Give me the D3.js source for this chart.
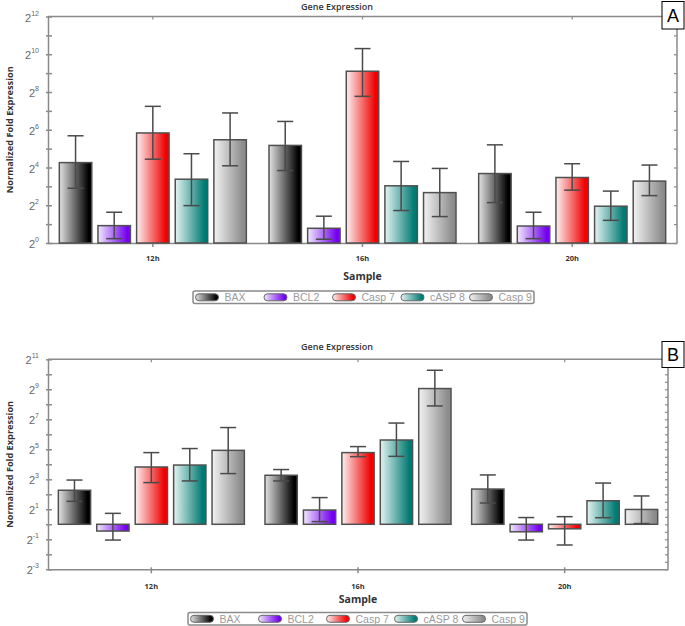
<!DOCTYPE html>
<html><head><meta charset="utf-8">
<script src="https://cdn.jsdelivr.net/npm/d3@7"></script>
<style>body{margin:0;background:#fff} svg{display:block}</style>
</head><body><svg id="c" width="685" height="626"></svg>
<script>
// ---------- data (log2 of normalized fold expression) ----------
const samples = ["12h", "16h", "20h"];
const genes = ["BAX", "BCL2", "Casp 7", "cASP 8", "Casp 9"];
// rows: samples, cols: genes
const valuesA  = [[4.26, 0.92, 5.83, 3.38, 5.47], [5.17, 0.78, 9.10, 3.03, 2.67], [3.68, 0.90, 3.47, 1.95, 3.28]];
const errHighA = [[5.68, 1.63, 7.24, 4.73, 6.89], [6.44, 1.42, 10.30, 4.32, 3.95], [5.20, 1.63, 4.20, 2.75, 4.13]];
const errLowA  = [[2.90, 0.23, 4.44, 1.98, 4.09], [3.84, 0.20, 7.77, 1.72, 1.40], [2.14, 0.23, 2.80, 1.20, 2.51]];
const valuesB  = [[2.27, -0.45, 3.82, 3.95, 4.93], [3.27, 0.95, 4.78, 5.62, 9.05], [2.35, -0.50, -0.30, 1.57, 0.99]];
const errHighB = [[2.95, 0.73, 4.78, 5.05, 6.45], [3.65, 1.78, 5.18, 6.75, 10.27], [3.29, 0.45, 0.51, 2.75, 1.89]];
const errLowB  = [[1.53, -1.05, 2.78, 2.89, 3.38], [2.89, 0.18, 4.51, 4.53, 7.89], [1.42, -1.05, -1.38, 0.44, 0.05]];
const tickLabelsA = [0, 2, 4, 6, 8, 10, 12];
const tickLabelsB = [-3, -1, 1, 3, 5, 7, 9, 11];
const geneLight = ["#e2e2e2", "#f1e8ff", "#fff0f0", "#e4f4f2", "#f2f2f2"];
const geneDark  = ["#000000", "#7400ee", "#f00000", "#007a72", "#8c8c8c"];

const svg = d3.select("#c");
const defs = svg.append("defs");
genes.forEach((g, i) => {
  const lg = defs.append("linearGradient").attr("id", "g" + i)
    .attr("x1", 0).attr("x2", 1).attr("y1", 0).attr("y2", 0);
  lg.append("stop").attr("offset", "0%").attr("stop-color", geneLight[i]);
  lg.append("stop").attr("offset", "90%").attr("stop-color", geneDark[i]);
  lg.append("stop").attr("offset", "100%").attr("stop-color", geneDark[i]);
});

const AX = "#8a8a8a";
const FONT = "'Open Sans', 'DejaVu Sans', sans-serif";

function panel(cfg) {
  const g = svg.append("g");
  const x = d3.scaleBand().domain(samples).range([cfg.left, cfg.right]);
  const y = d3.scaleLinear().domain(cfg.domain).range([cfg.bottom, cfg.top]);
  const inner = d3.scaleBand().domain(genes).range([-cfg.groupW / 2, cfg.groupW / 2]).paddingInner(0.16);
  const cx = s => x(s) + x.bandwidth() / 2;

  // title
  g.append("text").attr("x", 337).attr("y", cfg.titleY).attr("text-anchor", "middle")
    .attr("font-family", FONT).attr("font-size", 9).attr("font-weight", 600).attr("fill", "#333")
    .text("Gene Expression");

  // frame lines
  g.append("line").attr("x1", cfg.left).attr("x2", 662).attr("y1", cfg.top).attr("y2", cfg.top)
    .attr("stroke", AX).attr("stroke-width", 1.5);
  g.append("line").attr("x1", cfg.right).attr("x2", cfg.right).attr("y1", cfg.boxBottom).attr("y2", cfg.bottom)
    .attr("stroke", AX).attr("stroke-width", 1.5);

  // left axis
  const intTicks = d3.range(cfg.domain[0], cfg.domain[1] + 0.001, 1);
  const la = g.append("g").attr("transform", `translate(${cfg.left},0)`)
    .call(d3.axisLeft(y).tickValues(intTicks).tickSize(-4).tickSizeOuter(0).tickFormat(""));
  la.select(".domain").attr("stroke", AX).attr("stroke-width", 1.5);
  la.selectAll(".tick line").attr("stroke", AX).attr("stroke-width", 1.5).attr("x1", -2);
  cfg.labels.forEach(v => {
    const t = g.append("text").attr("x", 39).attr("y", y(v) + 5).attr("text-anchor", "end")
      .attr("font-family", "'Liberation Sans', Arial, sans-serif").attr("fill", "#666");
    t.append("tspan").attr("font-size", 11).text("2");
    t.append("tspan").attr("font-size", 7).attr("dy", -6).text(String(v));
  });

  // right axis (inward ticks)
  const ra = g.append("g").attr("transform", `translate(${cfg.right},0)`)
    .call(d3.axisRight(y).tickValues(d3.range(cfg.domain[0], cfg.domain[1] + 0.001, cfg.rightStep))
      .tickSize(-3).tickSizeOuter(0).tickFormat(""));
  ra.select(".domain").remove();
  ra.selectAll(".tick line").attr("stroke", AX).attr("stroke-width", 1.2);

  // bottom axis
  const ba = g.append("g").attr("transform", `translate(0,${cfg.bottom})`)
    .call(d3.axisBottom(x).tickSize(4).tickSizeOuter(0).tickFormat(""));
  ba.select(".domain").attr("stroke", AX).attr("stroke-width", 1.5);
  ba.selectAll(".tick line").attr("stroke", AX).attr("stroke-width", 1.5).attr("y1", -2);
  // top axis ticks
  const ta = g.append("g").attr("transform", `translate(0,${cfg.top})`)
    .call(d3.axisTop(x).tickSize(-3).tickSizeOuter(0).tickFormat(""));
  ta.select(".domain").remove();
  ta.selectAll(".tick line").attr("stroke", AX).attr("stroke-width", 1.2);

  // category labels
  samples.forEach(s => {
    g.append("text").attr("x", cx(s)).attr("y", cfg.catY).attr("text-anchor", "middle")
      .attr("font-family", FONT).attr("font-size", 7.5).attr("font-weight", 700).attr("fill", "#333").text(s);
  });
  g.append("text").attr("x", cx(samples[1])).attr("y", cfg.sampleY).attr("text-anchor", "middle")
    .attr("font-family", FONT).attr("font-size", 10.5).attr("font-weight", 700).attr("fill", "#333").text("Sample");
  g.append("text").attr("transform", `translate(13,${(cfg.top + cfg.bottom) / 2}) rotate(-90)`)
    .attr("text-anchor", "middle").attr("font-family", FONT).attr("font-size", 9.2).attr("font-weight", 700)
    .attr("fill", "#333").text("Normalized Fold Expression");

  // bars
  const bw = inner.bandwidth();
  samples.forEach((s, si) => {
    genes.forEach((gn, gi) => {
      const v = cfg.values[si][gi];
      const bx = cx(s) + inner(gn);
      g.append("rect").attr("x", bx).attr("y", y(Math.max(v, 0)))
        .attr("width", bw).attr("height", Math.abs(y(v) - y(0)))
        .attr("fill", `url(#g${gi})`).attr("stroke", "#505050").attr("stroke-width", 1.5);
    });
  });
  // error bars
  samples.forEach((s, si) => {
    genes.forEach((gn, gi) => {
      const mx = cx(s) + inner(gn) + bw / 2;
      const hi = y(cfg.hi[si][gi]), lo = y(cfg.lo[si][gi]);
      const eg = g.append("g").attr("stroke", "#4a4a4a").attr("stroke-width", 1.5);
      eg.append("line").attr("x1", mx).attr("x2", mx).attr("y1", hi).attr("y2", lo);
      eg.append("line").attr("x1", mx - 8).attr("x2", mx + 8).attr("y1", hi).attr("y2", hi);
      eg.append("line").attr("x1", mx - 8).attr("x2", mx + 8).attr("y1", lo).attr("y2", lo);
    });
  });

  // legend
  const L = cfg.legend;
  g.append("rect").attr("x", L.x).attr("y", L.y).attr("width", L.w).attr("height", 12.5).attr("rx", 2)
    .attr("fill", "#fff").attr("stroke", "#8a8a8a").attr("stroke-width", 1.5);
  genes.forEach((gn, gi) => {
    const ix = L.x + 2.5 + gi * L.step;
    g.append("rect").attr("x", ix).attr("y", L.y + 2.8).attr("width", 23).attr("height", 7).attr("rx", 3.5)
      .attr("fill", `url(#g${gi})`).attr("stroke", "#666").attr("stroke-width", 1);
    g.append("text").attr("x", ix + 29).attr("y", L.y + 10.3)
      .attr("font-family", "'Liberation Sans', Arial, sans-serif").attr("font-size", 10.5).attr("fill", "#9a9a9a")
      .text(gn);
  });

  // panel letter box
  g.append("rect").attr("x", 662).attr("y", cfg.boxTop).attr("width", 22).attr("height", cfg.boxBottom - cfg.boxTop)
    .attr("fill", "#fff").attr("stroke", "#000").attr("stroke-width", 1);
  g.append("text").attr("x", 673).attr("y", (cfg.boxTop + cfg.boxBottom) / 2 + 6.5).attr("text-anchor", "middle")
    .attr("font-family", "'Liberation Sans', Arial, sans-serif").attr("font-size", 18).attr("fill", "#000")
    .text(cfg.letter);
}

panel({
  left: 48, right: 677, top: 16.5, bottom: 243, domain: [0, 12], groupW: 187,
  values: valuesA, hi: errHighA, lo: errLowA, labels: tickLabelsA, rightStep: 1,
  titleY: 10, catY: 261, sampleY: 280, letter: "A", boxTop: 1.5, boxBottom: 29,
  legend: { x: 193, y: 291, w: 341, step: 68.5 }
});
panel({
  left: 48, right: 668, top: 359.3, bottom: 569.3, domain: [-3, 11], groupW: 186,
  values: valuesB, hi: errHighB, lo: errLowB, labels: tickLabelsB, rightStep: 0.5,
  titleY: 350, catY: 589, sampleY: 603, letter: "B", boxTop: 341.5, boxBottom: 367.5,
  legend: { x: 188, y: 612.5, w: 339, step: 68 }
});
</script></body></html>
